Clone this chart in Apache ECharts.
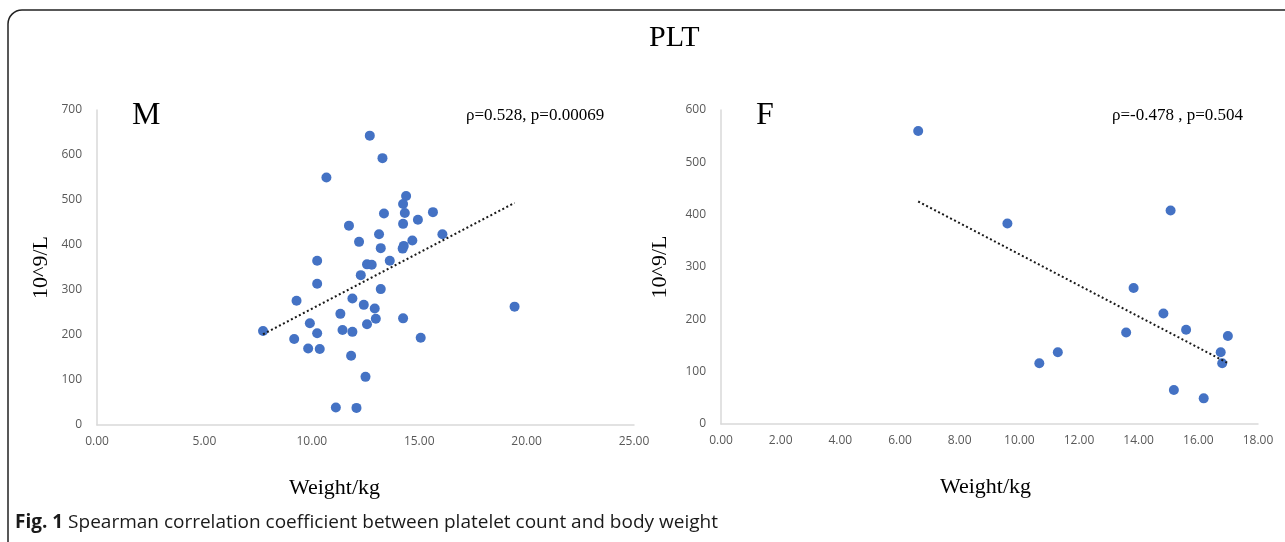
<!DOCTYPE html>
<html>
<head>
<meta charset="utf-8">
<title>PLT</title>
<script src="https://cdn.jsdelivr.net/npm/echarts@6/dist/echarts.min.js"></script>
<style>
  html, body {margin: 0; padding: 0; background: #fff;}
  #chart {width: 1285px; height: 542px;}
</style>
</head>
<body>
<div id="chart"></div>
<script>
// M group: weight (kg) and platelet count (10^9/L)
const mWeight = [12.70, 10.68, 11.73, 12.20, 10.25, 12.57, 12.79, 12.28, 10.25, 9.29,
  11.89, 12.42, 12.93, 11.33, 9.91, 12.57, 12.98, 7.73, 10.25, 11.43,
  11.89, 9.18, 9.83, 10.37, 11.83, 12.50, 11.12, 12.08, 13.29, 14.39,
  14.25, 14.33, 13.36, 15.64, 14.94, 14.25, 13.13, 16.08, 14.68, 13.21,
  14.28, 14.23, 13.63, 13.21, 14.25, 19.44, 15.07];
const mPlt = [643, 550, 443, 407, 365, 357, 356, 333, 314, 276,
  281, 267, 259, 247, 226, 224, 236, 209, 204, 211,
  207, 191, 170, 169, 154, 107, 39, 38, 593, 509,
  491, 471, 470, 473, 456, 447, 424, 424, 410, 393,
  398, 392, 365, 302, 237, 263, 194];

// F group
const fWeight = [6.61, 9.60, 10.67, 11.29, 13.58, 13.83, 14.83, 15.07, 15.18, 15.59, 16.18, 16.75, 16.80, 16.99];
const fPlt = [560, 383, 116, 137, 175, 260, 211, 408, 65, 180, 49, 137, 116, 168];

const mXTicks = {min: 0, max: 25, interval: 5};
const mYTicks = {min: 0, max: 700, interval: 100};
const fXTicks = {min: 0, max: 18, interval: 2};
const fYTicks = {min: 0, max: 600, interval: 100};

const mStats = 'ρ=0.528, p=0.00069';
const fStats = 'ρ=-0.478 , p=0.504';

function pairs(xs, ys) {
  return xs.map((x, i) => [x, ys[i]]);
}

// Excel style linear trendline, drawn from min x to max x
function trend(xs, ys) {
  const n = xs.length;
  const mx = xs.reduce((a, b) => a + b, 0) / n;
  const my = ys.reduce((a, b) => a + b, 0) / n;
  let sxy = 0, sxx = 0;
  for (let i = 0; i < n; i++) {
    sxy += (xs[i] - mx) * (ys[i] - my);
    sxx += (xs[i] - mx) * (xs[i] - mx);
  }
  const k = sxy / sxx;
  const b = my - k * mx;
  const x0 = Math.min(...xs), x1 = Math.max(...xs);
  return [[x0, k * x0 + b], [x1, k * x1 + b]];
}

const serif = '"Liberation Serif", "DejaVu Serif", serif';
const sans = '"Open Sans", "Noto Sans", sans-serif';
const axisGray = '#d9d9d9';
const labelGray = '#595959';
const dotBlue = '#4472c4';

function xAxisOf(idx, ticks, padRight) {
  return {
    type: 'value', gridIndex: idx,
    min: ticks.min, max: ticks.max, interval: ticks.interval,
    name: 'Weight/kg', nameLocation: 'middle', nameGap: 52,
    nameTextStyle: {fontFamily: serif, fontSize: 22, color: '#000', padding: [0, padRight, 0, 0]},
    axisLine: {show: true, lineStyle: {color: axisGray, width: 1.5}},
    axisTick: {show: false},
    splitLine: {show: false},
    axisLabel: {color: labelGray, fontFamily: sans, fontSize: 12, margin: 11,
      formatter: v => v.toFixed(2)}
  };
}

function yAxisOf(idx, ticks, gap) {
  return {
    type: 'value', gridIndex: idx,
    min: ticks.min, max: ticks.max, interval: ticks.interval,
    name: '10^9/L', nameLocation: 'middle', nameGap: gap,
    nameTextStyle: {fontFamily: serif, fontSize: 22, color: '#000'},
    axisLine: {show: true, lineStyle: {color: axisGray, width: 1.5}},
    axisTick: {show: false},
    splitLine: {show: false},
    axisLabel: {color: labelGray, fontFamily: sans, fontSize: 12, margin: 15}
  };
}

function dots(idx, xs, ys) {
  return {
    type: 'scatter', xAxisIndex: idx, yAxisIndex: idx,
    data: pairs(xs, ys), symbolSize: 10,
    itemStyle: {color: dotBlue, opacity: 1}, z: 3
  };
}

function trendLine(idx, xs, ys) {
  return {
    type: 'line', xAxisIndex: idx, yAxisIndex: idx,
    data: trend(xs, ys), symbol: 'none', silent: true,
    lineStyle: {color: '#1a1a1a', width: 2, type: [2, 2.5]}, z: 4
  };
}

const chart = echarts.init(document.getElementById('chart'));
chart.setOption({
  backgroundColor: '#fff',
  animation: false,
  title: {
    text: 'PLT', left: 644, top: 18,
    textStyle: {fontFamily: serif, fontSize: 30, fontWeight: 'normal', color: '#000'}
  },
  grid: [
    {left: 97, top: 110, width: 537, height: 315},
    {left: 721, top: 110, width: 537, height: 314}
  ],
  xAxis: [xAxisOf(0, mXTicks, 62), xAxisOf(1, fXTicks, 8)],
  yAxis: [yAxisOf(0, mYTicks, 45), yAxisOf(1, fYTicks, 50)],
  series: [
    dots(0, mWeight, mPlt), trendLine(0, mWeight, mPlt),
    dots(1, fWeight, fPlt), trendLine(1, fWeight, fPlt)
  ],
  graphic: [
    {type: 'rect', shape: {x: 8, y: 10, width: 1320, height: 560, r: 14},
      style: {fill: 'none', stroke: '#222', lineWidth: 1.5}, silent: true},
    {type: 'text', left: 132, top: 100,
      style: {text: 'M', font: '32px ' + serif, fill: '#000'}},
    {type: 'text', left: 756, top: 100,
      style: {text: 'F', font: '32px ' + serif, fill: '#000'}},
    {type: 'text', left: 466, top: 107,
      style: {text: mStats, font: '17px ' + serif, fill: '#000'}},
    {type: 'text', left: 1112, top: 107,
      style: {text: fStats, font: '17px ' + serif, fill: '#000'}},
    {type: 'text', left: 15, top: 513,
      style: {
        text: '{b|Fig. 1} Spearman correlation coefficient between platelet count and body weight',
        font: '19px ' + sans, fill: '#1a1a1a',
        rich: {b: {fontWeight: 'bold', fontFamily: sans, fontSize: 19, fill: '#1a1a1a'}}
      }}
  ]
});
</script>
</body>
</html>
